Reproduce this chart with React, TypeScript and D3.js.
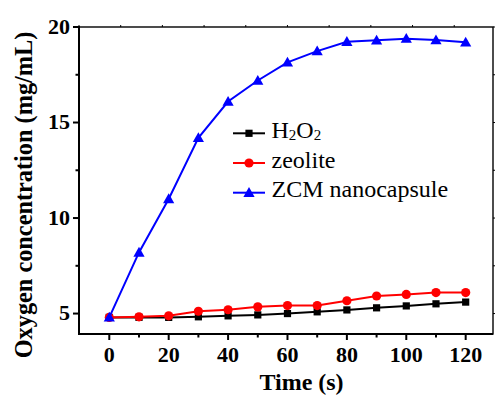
import React from "react";
import * as d3 from "d3";

// Sampling times (s)
const times = [0, 10, 20, 30, 40, 50, 60, 70, 80, 90, 100, 110, 120];
// Oxygen concentration (mg/mL) per series
const h2o2 = [4.8, 4.8, 4.8, 4.83, 4.88, 4.93, 5.0, 5.09, 5.19, 5.3, 5.4, 5.51, 5.6];
const zeolite = [4.8, 4.83, 4.88, 5.12, 5.2, 5.35, 5.42, 5.42, 5.67, 5.92, 6.0, 6.1, 6.1];
const zcm = [4.8, 8.2, 11.0, 14.2, 16.1, 17.2, 18.15, 18.74, 19.23, 19.3, 19.39, 19.32, 19.2];

const xMajorTicks = [0, 20, 40, 60, 80, 100, 120];
const xMinorTicks = [10, 30, 50, 70, 90, 110];
const yMajorTicks = [5, 10, 15, 20];
const yMinorTicks = [7.5, 12.5, 17.5];

const W = 496;
const H = 399;
const L = 79, R = 493, T = 27, B = 334;

const x = d3.scaleLinear().domain([-10.2, 129.2]).range([L, R]);
const y = d3.scaleLinear().domain([3.93, 20]).range([B, T]);
// secondary frame ticks along the top edge
const xTop = d3.scaleLinear().domain([0, 9.93]).range([L, R]);

const txt = { fontFamily: "'Liberation Serif', 'Times New Roman', serif" };

type Series = { name: string; values: number[]; color: string; shape: "square" | "circle" | "triangle" };
const series: Series[] = [
  { name: "H2O2", values: h2o2, color: "#000000", shape: "square" },
  { name: "zeolite", values: zeolite, color: "#ff0000", shape: "circle" },
  { name: "ZCM nanocapsule", values: zcm, color: "#0000ff", shape: "triangle" },
];

function Marker({ cx, cy, shape, color }: { cx: number; cy: number; shape: string; color: string }) {
  if (shape === "square") return <rect x={cx - 3.6} y={cy - 3.6} width={7.2} height={7.2} fill={color} />;
  if (shape === "circle") return <circle cx={cx} cy={cy} r={4.6} fill={color} />;
  const s = 5.6;
  return <path d={`M${cx},${cy - s}L${cx + s},${cy + s * 0.75}L${cx - s},${cy + s * 0.75}Z`} fill={color} />;
}

export default function App() {
  const line = d3
    .line<number>()
    .x((_, i) => x(times[i]))
    .y((d) => y(d));

  return (
    <svg
      width={W}
      height={H}
      style={{ position: "absolute", left: 0, top: 0, background: "#fff" }}
    >
      {/* series lines and markers */}
      {series.map((s) => (
        <g key={s.name}>
          <path d={line(s.values) || ""} fill="none" stroke={s.color} strokeWidth={2} />
          {s.values.map((v, i) => (
            <Marker key={i} cx={x(times[i])} cy={y(v)} shape={s.shape} color={s.color} />
          ))}
        </g>
      ))}

      {/* frame */}
      <rect x={L} y={T} width={R - L} height={B - T} fill="none" stroke="#000" strokeWidth={1.4} />
      <line x1={L} x2={L} y1={T - 1} y2={B + 1} stroke="#000" strokeWidth={2} />
      <line x1={L - 1} x2={R} y1={B} y2={B} stroke="#000" strokeWidth={2} />

      {/* top edge ticks */}
      {d3.range(0, 10).map((t) => (
        <line key={"tt" + t} x1={xTop(t)} x2={xTop(t)} y1={T} y2={T - 2} stroke="#000" strokeWidth={1} />
      ))}
      {/* right edge ticks */}
      {[...yMajorTicks, ...yMinorTicks].map((t) => (
        <line key={"rt" + t} x1={R} x2={R + 2} y1={y(t)} y2={y(t)} stroke="#000" strokeWidth={1} />
      ))}

      {/* x axis */}
      {xMajorTicks.map((t) => (
        <g key={"xm" + t}>
          <line x1={x(t)} x2={x(t)} y1={B} y2={B + 6} stroke="#000" strokeWidth={2} />
          <text x={x(t)} y={361.5} textAnchor="middle" fontSize={22} fontWeight="bold" style={txt}>
            {t}
          </text>
        </g>
      ))}
      {xMinorTicks.map((t) => (
        <line key={"xn" + t} x1={x(t)} x2={x(t)} y1={B} y2={B + 3.5} stroke="#000" strokeWidth={2} />
      ))}

      {/* y axis */}
      {yMajorTicks.map((t) => (
        <g key={"ym" + t}>
          <line x1={L} x2={L - 6} y1={y(t)} y2={y(t)} stroke="#000" strokeWidth={2} />
          <text x={70} y={y(t) + 6.8} textAnchor="end" fontSize={22} fontWeight="bold" style={txt}>
            {t}
          </text>
        </g>
      ))}
      {yMinorTicks.map((t) => (
        <line key={"yn" + t} x1={L} x2={L - 3.5} y1={y(t)} y2={y(t)} stroke="#000" strokeWidth={2} />
      ))}

      {/* axis titles */}
      <text x={301.5} y={390} textAnchor="middle" fontSize={24} fontWeight="bold" style={txt}>
        Time (s)
      </text>
      <text
        transform="translate(32,195) rotate(-90)"
        textAnchor="middle"
        fontSize={24.3}
        fontWeight="bold"
        style={txt}
      >
        Oxygen concentration (mg/mL)
      </text>

      {/* legend */}
      {series.map((s, i) => {
        const cy = 133.3 + i * 29.7;
        return (
          <g key={"lg" + s.name}>
            <line x1={233} x2={265} y1={cy} y2={cy} stroke={s.color} strokeWidth={2} />
            <Marker cx={249} cy={cy} shape={s.shape} color={s.color} />
            <text x={271.5} y={cy + 4.5} fontSize={24} style={txt}>
              {s.name === "H2O2" ? (
                <>
                  H<tspan fontSize={15} dy={2}>2</tspan>
                  <tspan dy={-2}>O</tspan>
                  <tspan fontSize={15} dy={2}>2</tspan>
                </>
              ) : (
                s.name
              )}
            </text>
          </g>
        );
      })}
    </svg>
  );
}
